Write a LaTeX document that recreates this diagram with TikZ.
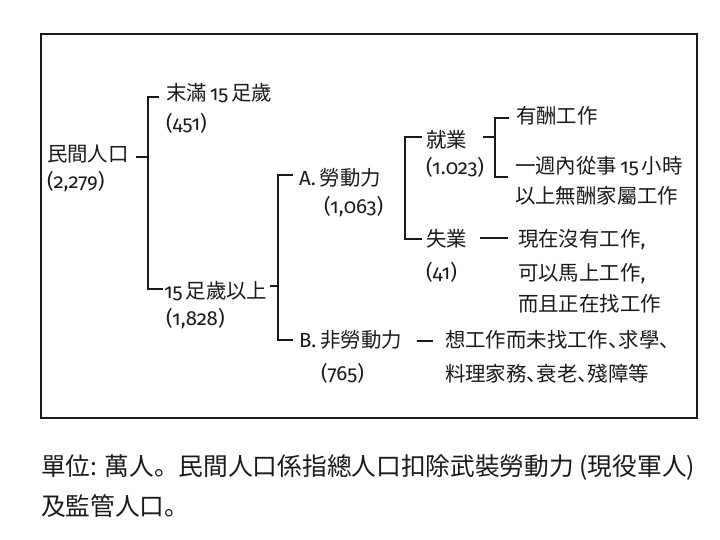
\documentclass[tikz,border=0pt]{standalone}
\usepackage{fontspec}
\setmainfont{Fira Sans}[Numbers=OldStyle]
\newfontfamily\cjkfont{Noto Sans CJK JP}[RawFeature=+halt]
\newfontfamily\capfont{Noto Sans CJK JP}
\newcommand\zhtxt[1]{{\cjkfont #1}}
\definecolor{ink}{HTML}{1A1A1A}
\begin{document}
\begin{tikzpicture}[x=1bp,y=-1bp,
  lbl/.style={anchor=base west, inner sep=0pt, outer sep=0pt, font=\fontsize{20.5}{24}\selectfont, text=ink},
  captext/.style={anchor=base west, inner sep=0pt, outer sep=0pt, font=\capfont\fontsize{24.8}{29}\selectfont, text=ink},
  conn/.style={draw=ink, line width=1.1bp},
  thickdash/.style={draw=ink, line width=2.2bp},
  frame/.style={draw=ink, line width=1.4bp}]
\useasboundingbox (0,0) rectangle (720,540);
\fill[white] (0,0) rectangle (720,540);
\draw[frame] (41,34) rectangle (697,418);

% level 1
\node[lbl] (civ)  at (47,162) {\zhtxt{民間人口}};
\node[lbl] (civn) at (47,189) {(2,279)};
% level 2
\node[lbl] (u15)  at (166,101) {\zhtxt{末滿}\hspace{3pt}15\hspace{3pt}\zhtxt{足歲}};
\node[lbl] (u15n) at (166,131) {(451)};
\node[lbl] (o15)  at (164,298) {15\hspace{3pt}\zhtxt{足歲以上}};
\node[lbl] (o15n) at (166,325) {(1,828)};
% level 3
\node[lbl] (lf)   at (299,186) {A.\hspace{4pt}\zhtxt{勞動力}};
\node[lbl] (lfn)  at (324,214) {(1,063)};
\node[lbl] (nlf)  at (299,347) {B.\hspace{4pt}\zhtxt{非勞動力}};
\node[lbl] (nlfn) at (321,380) {(765)};
% level 4
\node[lbl] (emp)   at (426,148) {\zhtxt{就業}};
\node[lbl] (empn)  at (426,175) {(1.023)};
\node[lbl] (unemp) at (426,247) {\zhtxt{失業}};
\node[lbl] (unempn) at (426,280) {(41)};
% level 5
\node[lbl] (paid)   at (516,124) {\zhtxt{有酬工作}};
\node[lbl] (unpd1)  at (515,174) {\zhtxt{一週內從事}\hspace{3pt}15\hspace{3pt}\zhtxt{小時}};
\node[lbl] (unpd2)  at (515,204) {\zhtxt{以上無酬家屬工作}};
\node[lbl] (ue1) at (518,247) {\zhtxt{現在沒有工作},};
\node[lbl] (ue2) at (518,281) {\zhtxt{可以馬上工作},};
\node[lbl] (ue3) at (518,311) {\zhtxt{而且正在找工作}};
\node[lbl] (nl1) at (445,347) {\zhtxt{想工作而未找工作、求學、}};
\node[lbl] (nl2) at (445,381) {\zhtxt{料理家務、衰老、殘障等}};
% caption
\node[captext] (cap1) at (41,475) {單位: 萬人。民間人口係指總人口扣除武裝勞動力 (現役軍人)};
\node[captext] (cap2) at (41,515) {及監管人口。};

% bracket coordinates
\coordinate (a0) at (136,157); \coordinate (a1) at (148,157);
\coordinate (a2) at (159,97);  \coordinate (a3) at (148,97);
\coordinate (a4) at (148,289); \coordinate (a5) at (163,289);
\coordinate (b0) at (270,286); \coordinate (b1) at (278,286);
\coordinate (b2) at (293,175); \coordinate (b3) at (278,175);
\coordinate (b4) at (278,340); \coordinate (b5) at (293,340);
\coordinate (c2) at (422,137); \coordinate (c3) at (405,137);
\coordinate (c4) at (405,239); \coordinate (c5) at (422,239);
\coordinate (d0) at (483,137); \coordinate (d1) at (495,137);
\coordinate (d2) at (509,118); \coordinate (d3) at (495,118);
\coordinate (d4) at (495,177); \coordinate (d5) at (508,177);
\coordinate (e0) at (480,238); \coordinate (e1) at (508,238);
\coordinate (f0) at (417,341); \coordinate (f1) at (433,341);

\draw[conn] (a0) -- (a1);
\draw[conn] (a2) -- (a3) -- (a4) -- (a5);
\draw[conn] (b0) -- (b1);
\draw[conn] (b2) -- (b3) -- (b4) -- (b5);
\draw[conn] (c2) -- (c3) -- (c4) -- (c5);
\draw[conn] (d0) -- (d1);
\draw[conn] (d2) -- (d3) -- (d4) -- (d5);
\draw[thickdash] (e0) -- (e1);
\draw[conn] (f0) -- (f1);
\end{tikzpicture}
\end{document}
